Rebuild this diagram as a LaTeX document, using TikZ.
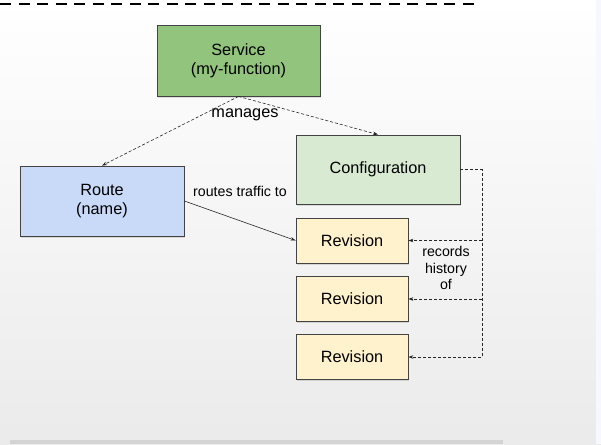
\documentclass[tikz,border=0pt]{standalone}
\usepackage{fontspec}
\setmainfont{Liberation Sans}
\usetikzlibrary{arrows.meta,shadows}
\definecolor{servicegreen}{HTML}{93C47D}
\definecolor{configgreen}{HTML}{D9EAD3}
\definecolor{routeblue}{HTML}{C9DAF8}
\definecolor{revyellow}{HTML}{FFF2CC}
\definecolor{edgegray}{HTML}{434343}
\begin{document}
\begin{tikzpicture}[
  x=1pt, y=-1pt,
  box/.style={draw=edgegray, line width=0.8pt, align=center, font=\fontsize{16.3}{19}\selectfont,
    drop shadow={shadow xshift=1.2pt, shadow yshift=-1.5pt, opacity=0.25}},
  revbox/.style={box, fill=revyellow, minimum width=112pt, minimum height=45pt},
  lbl/.style={font=\fontsize{14.2}{16.5}\selectfont, align=center},
  arrow/.style={-{Stealth[length=5pt,width=3.5pt]}, line width=0.6pt, black!85},
  dasharrow/.style={arrow, dashed, dash pattern=on 3pt off 2pt}
]
  \useasboundingbox (0,0) rectangle (601,444);
  \shade[top color=white, bottom color=black!8] (0,0) rectangle (601,444);
  \fill[black!4!blue!3] (596,0) rectangle (601,444);
  \fill[black!17] (10,440) rectangle (503,444);
  \draw[line width=1.7pt, dash pattern=on 11pt off 7.5pt] (0,4) -- (476,4);

  \node[box, fill=servicegreen, minimum width=163pt, minimum height=71pt] (service) at (238.5,60.5) {Service\\(my-function)};
  \node[box, fill=routeblue, minimum width=164pt, minimum height=70pt] (route) at (102,201) {Route\\(name)};
  \node[box, fill=configgreen, minimum width=164pt, minimum height=69pt] (config) at (378,169.5) {Configuration};
  \node[revbox] (rev1) at (352,240.5) {Revision};
  \node[revbox] (rev2) at (352,299) {Revision};
  \node[revbox] (rev3) at (352,357) {Revision};
  \coordinate (rail) at (482,357);

  \draw[dasharrow] (service.south) -- (route.north);
  \draw[dasharrow] (service.south) -- (config.north);
  \node[lbl, font=\fontsize{16.3}{19}\selectfont] (manages) at (245,115) {manages};

  \draw[arrow] (route.east) -- (rev1.west);
  \node[lbl] (routes) at (240,191) {routes traffic to};

  \draw[dasharrow] (config.east) -| (rail) -- (rev3.east);
  \draw[dasharrow] (rev1.east -| rail) -- (rev1.east);
  \draw[dasharrow] (rev2.east -| rail) -- (rev2.east);
  \node[lbl] (records) at (446,268) {records\\history\\of};
\end{tikzpicture}
\end{document}
